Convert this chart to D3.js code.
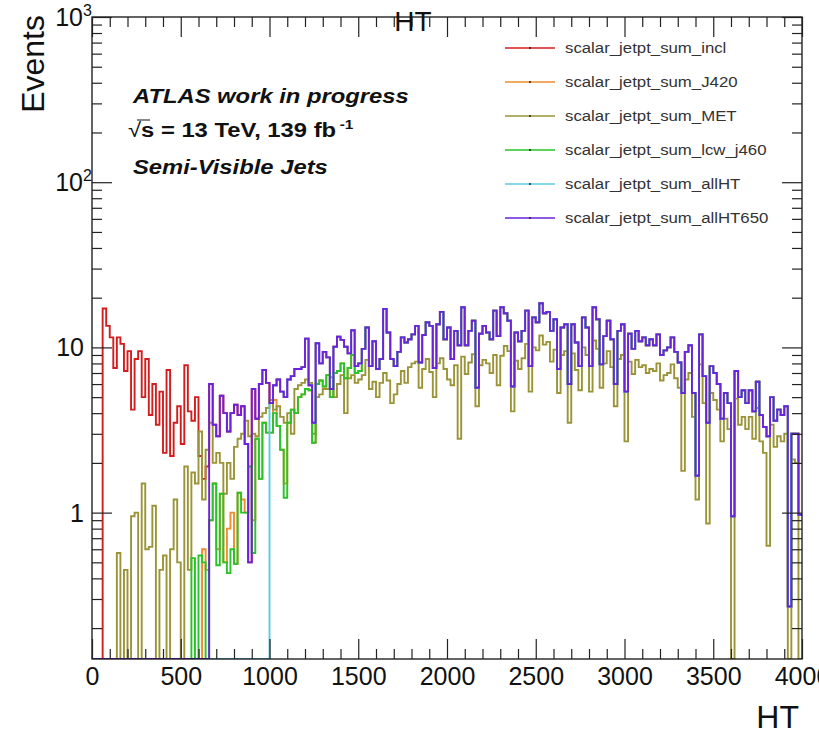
<!DOCTYPE html>
<html>
<head>
<meta charset="utf-8">
<script src="https://cdn.jsdelivr.net/npm/d3@7"></script>
<style>
  body { margin: 0; background: #fff; }
  svg { display: block; font-family: "Liberation Sans", Arial, Helvetica, sans-serif; }
</style>
</head>
<body>
<svg id="chart" width="819" height="734"></svg>
<script>
// HT distributions, 20 GeV bins from 0 to 4000

const binWidth = 20;
const htRange = [0, 4000];
const eventsRange = [0.13, 1000];

const seriesNames = [
    'scalar_jetpt_sum_incl',
    'scalar_jetpt_sum_J420',
    'scalar_jetpt_sum_MET',
    'scalar_jetpt_sum_lcw_j460',
    'scalar_jetpt_sum_allHT',
    'scalar_jetpt_sum_allHT650'
];
const seriesColors = ['#d41c1c', '#f08c2c', '#9a9437', '#26c426', '#5ccbe4', '#6a22dc'];

// incl, low-HT part (bins starting at 60)
const inclLow = [
    17.2, 13.5, 11.5, 7.5, 11.5, 10.5, 7.2, 9.5, 4.2, 8.5,
    9.5, 5.0, 8.5, 3.9, 6.0, 3.4, 5.4, 2.3, 7.3, 2.2,
    3.5, 4.4, 2.6, 7.8, 4.1, 3.6, 5.0, 2.2, 1.6, 1.9
];

// allHT650 (bins starting at 660) - incl and allHT coincide with it higher up
const allHT650Values = [
    6.0, 3.4, 2.9, 5.1, 4.0, 3.1, 4.0, 4.5, 3.9, 4.4,
    2.6, 0.5, 5.6, 3.7, 6.0, 7.3, 6.1, 4.6, 5.9, 6.4,
    5.4, 5.0, 6.4, 6.7, 7.4, 7.4, 7.6, 11.3, 5.9, 3.5,
    10.6, 8.0, 9.4, 8.7, 5.6, 10.1, 11.6, 11.1, 10.1, 9.2,
    12.7, 7.7, 8.0,
    9.8, 13.2, 7.7, 10.9, 7.4, 8.5, 17.1, 12.3, 8.5, 7.7,
    9.4, 11.5, 10.7, 11.2, 12.0, 13.5, 8.1, 11.9, 14.2, 13.5,
    7.5, 13.8, 16.4, 11.2, 13.2, 8.5, 12.6, 10.3, 17.5, 10.3,
    12.6, 14.5, 5.7, 12.1, 13.5, 12.3, 11.2, 16.7, 11.7, 17.5,
    16.1,
    14.5, 5.8, 12.3, 10.9, 12.6, 16.7, 7.7, 15.2, 14.2, 18.5,
    16.1, 16.4, 12.6, 14.8, 7.4, 13.2, 13.8, 6.0, 13.8, 10.7,
    7.7, 15.2, 13.2, 7.7, 17.5, 14.8, 7.9, 11.7, 14.5, 11.2,
    6.0, 12.6, 13.8, 5.4, 12.1, 9.8, 12.6, 10.9, 11.5, 10.3,
    11.2,
    10.3, 12.0, 9.0, 9.6, 10.0, 11.5, 9.4, 8.1, 5.3, 9.4,
    10.3, 5.3, 1.67, 12.0, 6.7, 3.5, 7.7, 7.0, 6.0, 3.7,
    5.3, 4.6, 0.95, 7.2, 5.0, 5.5, 4.6, 5.5, 4.1, 6.2,
    3.9, 3.3, 2.9, 5.0, 3.6, 4.2, 3.9, 4.4, 0.27, 3.0,
    3.0, 0.97
];

// MET (bins starting at 120)
const metValues = [
    0, 0.57, 0, 0.45, 0, 0.95, 1.0, 0, 1.5, 0.6,
    0.62, 1.1, 0, 0.45, 0.55, 0, 0.6, 1.2, 0.5, 0,
    1.9, 0.45, 1.75, 1.5, 3.1, 1.2, 2.4,
    3.5, 2.0, 2.3, 2.0, 1.3, 2.0, 1.6, 2.5, 2.8, 3.0,
    3.6, 2.9, 3.0, 2.9, 3.8, 4.0, 4.3, 4.8, 4.2, 4.4,
    3.8, 3.5, 4.0, 3.0, 5.6, 5.9, 6.1, 6.4, 6.1, 3.0,
    5.0, 5.2, 5.6, 5.6, 6.6, 5.0, 6.0, 6.8, 4.0, 6.5,
    6.8, 6.1, 6.4,
    6.8, 8.4, 5.6, 6.2, 5.0, 6.1, 7.0, 6.3, 4.6, 5.2,
    6.0, 7.2, 6.1, 7.6, 8.0, 8.2, 5.7, 7.4, 8.5, 7.1,
    5.0, 8.0, 8.6, 7.4, 6.4, 5.9, 7.8, 2.8, 8.8, 6.9,
    8.1, 9.1, 4.4, 7.8, 8.4, 8.0, 7.0, 9.0, 5.9, 8.9,
    10.2,
    9.5, 4.1, 8.3, 7.4, 8.6, 10.5, 5.4, 10.0, 9.6, 11.8,
    10.4, 10.8, 8.2, 9.7, 5.3, 9.0, 9.5, 3.5, 9.2, 7.3,
    5.5, 10.0, 9.0, 5.4, 11.0, 9.8, 5.7, 8.0, 9.5, 7.6,
    4.4, 8.5, 9.0, 2.7, 8.2, 6.9, 8.4, 7.6, 7.8, 7.0,
    7.4,
    7.2, 8.0, 6.3, 6.8, 7.0, 7.9, 6.5, 5.7, 1.79, 6.4,
    7.0, 3.8, 1.2, 7.9, 4.6, 0.86, 5.3, 4.8, 4.2, 2.7,
    3.7, 3.2, 0, 4.9, 3.4, 3.8, 3.2, 3.8, 2.8, 4.3,
    2.7, 2.3, 0.63, 3.4, 2.5, 2.9, 2.7, 3.0, 0, 2.1,
    2.0, 0
];

// lcw_j460, turn-on part (bins 560 .. 1500)
const lcwLow = [
    0.53, 0, 0.55, 0.5, 0, 0.9, 1.5, 0.48, 1.3, 0.5,
    0.43, 0.6, 0.49, 1.32, 1.0, 1.0, 1.9, 0.57, 2.8, 1.6,
    3.5, 3.05, 3.05, 4.0, 3.35, 2.4, 1.23, 3.5, 4.2, 4.0,
    5.0, 5.2, 5.6, 5.5, 2.65, 6.0, 6.3, 5.8, 6.8, 5.0,
    7.0, 7.2, 8.0, 6.5, 7.5, 9.0, 7.0, 7.2
];

// J420, turn-on part (bins 600 .. 1100)
const j420Low = [
    0, 0.6, 0.45, 0.9, 1.5, 0.6, 1.3, 0.5, 0.8, 1.0,
    0.49, 1.32, 1.2, 1.0, 1.9, 0.9, 2.8, 1.6, 3.5, 3.05,
    3.05, 4.8, 3.35, 2.4, 1.5, 3.5
];

const xTickValues = [0, 500, 1000, 1500, 2000, 2500, 3000, 3500, 4000];

// Put segments [startHT, values] into a full bin array
function toBins(segments) {
    const n = (htRange[1] - htRange[0]) / binWidth;
    const bins = new Array(n).fill(0);
    segments.forEach(([start, vals]) => {
        const i0 = (start - htRange[0]) / binWidth;
        vals.forEach((v, i) => { if (i0 + i < n) bins[i0 + i] = v; });
    });
    return bins;
}

const tail650 = allHT650Values.slice((1520 - 660) / binWidth);
const seriesBins = [
    toBins([[60, inclLow], [660, allHT650Values]]),
    toBins([[600, j420Low], [1120, lcwLow.slice((1120 - 560) / binWidth)], [1520, tail650]]),
    toBins([[120, metValues]]),
    toBins([[560, lcwLow], [1520, tail650]]),
    toBins([[1000, allHT650Values.slice((1000 - 660) / binWidth)]]),
    toBins([[660, allHT650Values]])
];

const frame = { left: 92, right: 802, top: 17, bottom: 659 };

const svg = d3.select('#chart');

const x = d3.scaleLinear().domain(htRange).range([frame.left, frame.right]);
const y = d3.scaleLog().domain(eventsRange).range([frame.bottom, frame.top]);

svg.append('defs').append('clipPath').attr('id', 'frame-clip')
    .append('rect')
    .attr('x', frame.left).attr('y', frame.top)
    .attr('width', frame.right - frame.left).attr('height', frame.bottom - frame.top);

// Histograms as step outlines
const line = d3.line();
const plot = svg.append('g').attr('clip-path', 'url(#frame-clip)');
seriesBins.forEach((bins, k) => {
    const pts = [[x(htRange[0]), y(eventsRange[0])]];
    bins.forEach((v, i) => {
        const yy = v > eventsRange[0] ? y(v) : y(eventsRange[0]);
        pts.push([x(htRange[0] + i * binWidth), yy]);
        pts.push([x(htRange[0] + (i + 1) * binWidth), yy]);
    });
    plot.append('path')
        .attr('d', line(pts))
        .attr('fill', 'none')
        .attr('stroke', seriesColors[k])
        .attr('stroke-width', 1.9);
});

// Frame
svg.append('rect')
    .attr('x', frame.left).attr('y', frame.top)
    .attr('width', frame.right - frame.left).attr('height', frame.bottom - frame.top)
    .attr('fill', 'none').attr('stroke', '#111').attr('stroke-width', 1.3);

// Axes ticks (ROOT style, pointing inward on all four sides)
const xMinor = d3.range(100, 4000, 100).filter(v => v % 500 !== 0);
const yMajor = [1, 10, 100, 1000];
const yMinor = [];
[0.1, 1, 10, 100].forEach(d => {
    for (let m = 2; m <= 9; m++) {
        const v = m * d;
        if (v >= eventsRange[0] && v <= eventsRange[1]) yMinor.push(v);
    }
});

function styleAxis(g) {
    g.select('.domain').remove();
    g.selectAll('line').attr('stroke', '#222').attr('stroke-width', 1.2);
}

svg.append('g').attr('transform', `translate(0,${frame.bottom})`)
    .call(d3.axisBottom(x).tickValues(xTickValues).tickSize(-20).tickPadding(8).tickFormat(d3.format('d')))
    .call(styleAxis)
    .call(g => g.selectAll('text').attr('font-size', 25).attr('fill', '#111')
        .attr('font-family', '"Liberation Sans", Arial, sans-serif'));
svg.append('g').attr('transform', `translate(0,${frame.bottom})`)
    .call(d3.axisBottom(x).tickValues(xMinor).tickSize(-10).tickFormat(''))
    .call(styleAxis);
svg.append('g').attr('transform', `translate(0,${frame.top})`)
    .call(d3.axisTop(x).tickValues(xTickValues).tickSize(-20).tickFormat(''))
    .call(styleAxis);
svg.append('g').attr('transform', `translate(0,${frame.top})`)
    .call(d3.axisTop(x).tickValues(xMinor).tickSize(-10).tickFormat(''))
    .call(styleAxis);

svg.append('g').attr('transform', `translate(${frame.left},0)`)
    .call(d3.axisLeft(y).tickValues(yMajor).tickSize(-20).tickFormat(''))
    .call(styleAxis);
svg.append('g').attr('transform', `translate(${frame.left},0)`)
    .call(d3.axisLeft(y).tickValues(yMinor).tickSize(-10).tickFormat(''))
    .call(styleAxis);
svg.append('g').attr('transform', `translate(${frame.right},0)`)
    .call(d3.axisRight(y).tickValues(yMajor).tickSize(-20).tickFormat(''))
    .call(styleAxis);
svg.append('g').attr('transform', `translate(${frame.right},0)`)
    .call(d3.axisRight(y).tickValues(yMinor).tickSize(-10).tickFormat(''))
    .call(styleAxis);

// Y tick labels
const yLabels = svg.append('g').attr('font-size', 25).attr('fill', '#111');
yMajor.forEach(v => {
    const exp = Math.round(Math.log10(v));
    const yy = y(v) + 9;
    if (exp <= 1) {
        yLabels.append('text').attr('x', 84).attr('y', yy).attr('text-anchor', 'end').text(String(v));
    } else {
        yLabels.append('text').attr('x', 83).attr('y', yy).attr('text-anchor', 'end').text('10');
        yLabels.append('text').attr('x', 83).attr('y', yy - 10).attr('font-size', 16).text(String(exp));
    }
});

// Axis titles and histogram title
svg.append('text')
    .attr('transform', 'translate(44,15) rotate(-90)')
    .attr('text-anchor', 'end')
    .attr('font-size', 32).attr('fill', '#111')
    .text('Events');
svg.append('text')
    .attr('x', 799).attr('y', 728)
    .attr('text-anchor', 'end')
    .attr('font-size', 32).attr('fill', '#111')
    .text('HT');
svg.append('text')
    .attr('x', 413).attr('y', 31)
    .attr('text-anchor', 'middle')
    .attr('font-size', 28).attr('fill', '#111')
    .text('HT');

// ATLAS label (reference text is a little wider than it is tall)
const info = svg.append('g').attr('fill', '#111').attr('font-weight', 'bold').attr('font-size', 20);
info.append('text').attr('transform', 'translate(133,103) scale(1.19,1)')
    .attr('font-style', 'italic').text('ATLAS work in progress');
const lumi = info.append('text').attr('transform', 'translate(128,137) scale(1.19,1)');
lumi.append('tspan').attr('font-weight', 'normal').text('\u221A');
lumi.append('tspan').text('s = 13 TeV, 139 fb');
lumi.append('tspan').attr('dy', -8).attr('dx', 3).attr('font-size', 13).text('-1');
info.append('text').attr('transform', 'translate(133,174) scale(1.19,1)')
    .attr('font-style', 'italic').text('Semi-Visible Jets');
// radical bar over s
info.append('line')
    .attr('x1', 137).attr('x2', 150).attr('y1', 120).attr('y2', 120)
    .attr('stroke', '#111').attr('stroke-width', 1);

// Legend
const legendRowY = [48, 82, 116, 150, 184, 218];
const legend = svg.append('g');
seriesNames.forEach((name, i) => {
    const ly = legendRowY[i];
    legend.append('line')
        .attr('x1', 505).attr('x2', 555).attr('y1', ly).attr('y2', ly)
        .attr('stroke', seriesColors[i]).attr('stroke-width', 1.4);
    legend.append('circle').attr('cx', 530).attr('cy', ly).attr('r', 0.9).attr('fill', '#111');
    legend.append('text')
        .attr('transform', `translate(565,${ly + 5}) scale(1.12,1)`)
        .attr('font-size', 15).attr('fill', '#333')
        .text(name);
});
</script>
</body>
</html>
